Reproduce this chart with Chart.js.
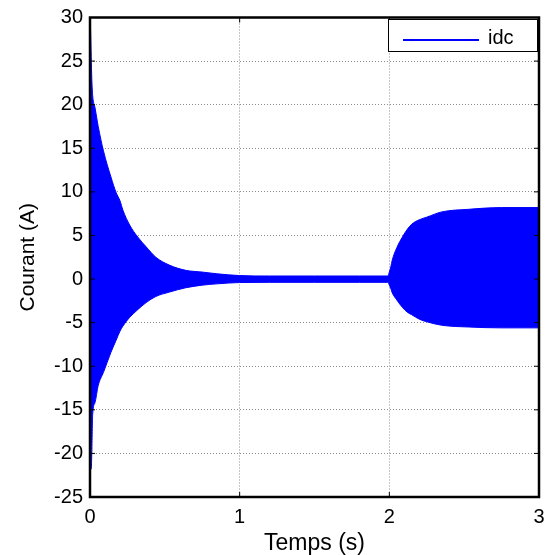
<!DOCTYPE html>
<html>
<head>
<meta charset="utf-8">
<script src="https://cdn.jsdelivr.net/npm/chart.js@4.4.1/dist/chart.umd.min.js"></script>
<style>
  html, body { margin: 0; padding: 0; background: #fff; }
</style>
</head>
<body>
<canvas id="chart" width="549" height="555"></canvas>
<script>
// enveloppe du courant idc
const temps = [0, 0.003, 0.008, 0.012, 0.018, 0.033, 0.055, 0.09, 0.14, 0.175, 0.2, 0.22, 0.265, 0.32, 0.375, 0.44, 0.53, 0.64, 0.75, 0.85, 1.0, 1.2, 1.5, 1.8, 1.99, 2.0, 2.01, 2.02, 2.05, 2.09, 2.12, 2.15, 2.2, 2.25, 2.35, 2.53, 2.75, 3.0];
const idcHaut = [30, 29, 25.5, 23, 21, 19.7, 17.5, 14.7, 11.7, 9.9, 9.0, 7.9, 6.2, 4.8, 3.7, 2.5, 1.6, 1.0, 0.8, 0.6, 0.4, 0.35, 0.35, 0.35, 0.35, 0.8, 1.4, 2.2, 3.6, 4.9, 5.7, 6.3, 6.8, 7.1, 7.7, 8.0, 8.2, 8.2];
const idcBas = [-21.8, -21.8, -21.8, -20, -15.5, -14.2, -12.2, -10.7, -8.4, -7.0, -6.0, -5.4, -4.4, -3.5, -2.7, -2.0, -1.5, -1.0, -0.7, -0.55, -0.4, -0.38, -0.38, -0.38, -0.38, -0.7, -1.1, -1.6, -2.4, -3.3, -3.8, -4.1, -4.6, -4.9, -5.3, -5.5, -5.6, -5.6];
const xTicks = [0, 1, 2, 3];
const yTicks = [-25, -20, -15, -10, -5, 0, 5, 10, 15, 20, 25, 30];

const police = 'Liberation Sans, Arial, Helvetica, sans-serif';
const bleu = '#0000ff';

// cadre, petites graduations intérieures et légende à la MATLAB
const cadre = {
    id: 'cadre',
    afterDraw(chart) {
        const { ctx, chartArea: a, scales } = chart;
        ctx.save();
        ctx.strokeStyle = '#000';
        ctx.lineWidth = 1;
        ctx.beginPath();
        xTicks.forEach(v => {
            const px = scales.x.getPixelForValue(v);
            ctx.moveTo(px, a.bottom); ctx.lineTo(px, a.bottom - 5);
            ctx.moveTo(px, a.top); ctx.lineTo(px, a.top + 5);
        });
        yTicks.forEach(v => {
            const py = scales.y.getPixelForValue(v);
            ctx.moveTo(a.left, py); ctx.lineTo(a.left + 5, py);
            ctx.moveTo(a.right, py); ctx.lineTo(a.right - 5, py);
        });
        ctx.stroke();

        ctx.lineWidth = 2.5;
        ctx.strokeRect(a.left, a.top, a.right - a.left, a.bottom - a.top);

        // légende
        const w = 149, h = 32;
        const bx = a.right - 2 - w, by = a.top + 1.5;
        ctx.fillStyle = '#fff';
        ctx.fillRect(bx, by, w, h);
        ctx.lineWidth = 1;
        ctx.strokeRect(bx + 0.5, by + 0.5, w, h);
        ctx.strokeStyle = bleu;
        ctx.lineWidth = 2;
        ctx.beginPath();
        ctx.moveTo(bx + 15, by + h / 2 + 5);
        ctx.lineTo(bx + 91, by + h / 2 + 5);
        ctx.stroke();
        ctx.fillStyle = '#000';
        ctx.font = '20px ' + police;
        ctx.textBaseline = 'middle';
        ctx.fillText(chart.data.datasets[0].label, bx + 100, by + h / 2 + 3);
        ctx.restore();
    }
};

new Chart(document.getElementById('chart'), {
    type: 'line',
    data: {
        datasets: [{
            label: 'idc',
            data: temps.map((t, i) => ({ x: t, y: idcHaut[i] })),
            borderColor: bleu,
            backgroundColor: bleu,
            borderWidth: 1,
            pointRadius: 0,
            cubicInterpolationMode: 'monotone',
            fill: '+1',
        }, {
            label: 'idc (bas)',
            data: temps.map((t, i) => ({ x: t, y: idcBas[i] })),
            borderColor: bleu,
            backgroundColor: bleu,
            borderWidth: 1,
            pointRadius: 0,
            cubicInterpolationMode: 'monotone',
            fill: false,
        }],
    },
    options: {
        responsive: false,
        animation: false,
        layout: { padding: { top: 17.5, right: 10, left: 0, bottom: 0 } },
        plugins: {
            legend: { display: false },
            tooltip: { enabled: false },
        },
        scales: {
            x: {
                type: 'linear',
                min: 0,
                max: 3,
                afterBuildTicks: s => { s.ticks = xTicks.map(v => ({ value: v })); },
                afterFit: s => { s.height = 58; s.paddingLeft = 0; s.paddingRight = 0; },
                ticks: { color: '#000', font: { family: police, size: 20 }, padding: 8, maxRotation: 0 },
                grid: { color: '#8c8c8c', lineWidth: 1, drawTicks: false },
                border: { display: false, dash: [1, 2] },
                title: { display: true, text: 'Temps (s)', color: '#000', font: { family: police, size: 23, lineHeight: 1 }, padding: { top: 0, bottom: 0 } },
            },
            y: {
                min: -25,
                max: 30,
                afterBuildTicks: s => { s.ticks = yTicks.map(v => ({ value: v })); },
                afterFit: s => { s.width = 90; s.paddingTop = 0; s.paddingBottom = 0; },
                ticks: { color: '#000', font: { family: police, size: 20 }, padding: 7 },
                grid: { color: '#8c8c8c', lineWidth: 1, drawTicks: false },
                border: { display: false, dash: [1, 2] },
                title: { display: true, text: 'Courant (A)', color: '#000', font: { family: police, size: 21, lineHeight: 1 }, padding: { top: 18, bottom: 0 } },
            },
        },
    },
    plugins: [cadre],
});
</script>
</body>
</html>
